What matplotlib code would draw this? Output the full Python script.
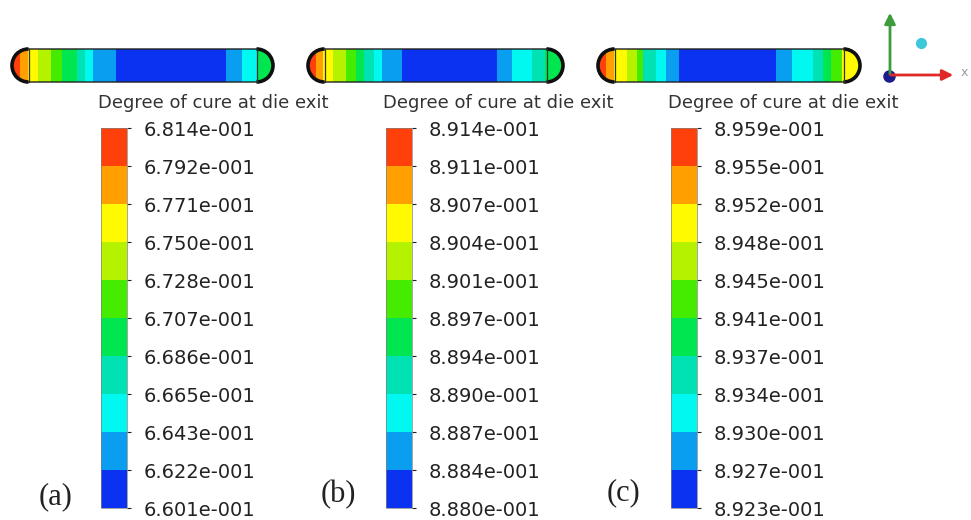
import numpy as np
import matplotlib
matplotlib.use("Agg")
import matplotlib.pyplot as plt
from matplotlib.colors import ListedColormap, BoundaryNorm
from matplotlib.cm import ScalarMappable
from matplotlib.patches import FancyBboxPatch, Arc

# contour band colours, lowest band first (CFX style rainbow)
band_colors = ['#0a32f0', '#0a9ef0', '#00f8f0', '#00e2b4', '#00e650',
               '#46ec00', '#b4f200', '#fffa00', '#ffa000', '#ff400a']

# legend levels
levels_a = [0.6601, 0.6622, 0.6643, 0.6665, 0.6686, 0.6707, 0.6728, 0.6750, 0.6771, 0.6792, 0.6814]
levels_b = [0.8880, 0.8884, 0.8887, 0.8890, 0.8894, 0.8897, 0.8901, 0.8904, 0.8907, 0.8911, 0.8914]
levels_c = [0.8923, 0.8927, 0.8930, 0.8934, 0.8937, 0.8941, 0.8945, 0.8948, 0.8952, 0.8955, 0.8959]

# band index along the die cross-section (left -> right) and the
# normalised positions where each band ends
profile_a_bands = [9, 8, 7, 6, 5, 4, 3, 2, 1, 0, 1, 2, 4]
profile_a_ends = [0.03, 0.06, 0.10, 0.15, 0.19, 0.25, 0.28, 0.31, 0.40, 0.82, 0.88, 0.94, 1.0]
profile_b_bands = [9, 8, 7, 6, 5, 4, 3, 2, 1, 0, 1, 2, 3, 4]
profile_b_ends = [0.03, 0.06, 0.10, 0.15, 0.19, 0.22, 0.26, 0.29, 0.37, 0.74, 0.80, 0.88, 0.93, 1.0]
profile_c_bands = [9, 8, 7, 6, 5, 3, 2, 1, 0, 1, 2, 3, 4, 5, 7]
profile_c_ends = [0.03, 0.06, 0.11, 0.15, 0.17, 0.22, 0.26, 0.31, 0.68, 0.74, 0.82, 0.86, 0.89, 0.93, 1.0]

panel_labels = ['(a)', '(b)', '(c)']
legend_title = 'Degree of cure at die exit'


def cfx_label(v):
    return '%.3fe-001' % (v * 10)


fig = plt.figure(figsize=(9.71, 5.2), dpi=100)
fig.patch.set_facecolor('white')
ov = fig.add_axes([0, 0, 1, 1])
ov.axis('off')

cmap = ListedColormap(band_colors)

# capsule placement in pixels: (left, right, top, bottom)
capsules = [(12, 273, 49, 82), (308, 563, 49, 82), (598, 860, 49, 82)]
profiles = [(profile_a_bands, profile_a_ends),
            (profile_b_bands, profile_b_ends),
            (profile_c_bands, profile_c_ends)]

for (x0, x1, y0, y1), (bands, ends) in zip(capsules, profiles):
    s = np.linspace(0, 1, 600, endpoint=False)
    idx = np.searchsorted(ends, s, side='right')
    row = np.array(bands)[np.clip(idx, 0, len(bands) - 1)]
    h = y1 - y0
    r = h / 2
    im = ov.imshow(row[np.newaxis, :], extent=(x0, x1, y1, y0), cmap=cmap,
                   vmin=-0.5, vmax=9.5, aspect='auto', interpolation='nearest')
    box = FancyBboxPatch((x0, y0), x1 - x0, h,
                         boxstyle='round,pad=0,rounding_size=%g' % r,
                         facecolor='none', edgecolor='#202020', lw=1.0)
    ov.add_patch(box)
    im.set_clip_path(box)
    ov.add_patch(Arc((x0 + r, (y0 + y1) / 2), 2 * r, h, theta1=90, theta2=270,
                     color='#101010', lw=2.6))
    ov.add_patch(Arc((x1 - r, (y0 + y1) / 2), 2 * r, h, theta1=-90, theta2=90,
                     color='#101010', lw=2.6))
    ov.plot([x0 + r, x0 + r], [y0, y1], color='#303030', lw=0.9)
    ov.plot([x1 - r, x1 - r], [y0, y1], color='#303030', lw=0.9)

# coordinate triad
ov.annotate('', xy=(890, 10), xytext=(890, 77),
            arrowprops=dict(arrowstyle='-|>', color='#3c9c3c', lw=2, mutation_scale=16))
ov.annotate('', xy=(956, 75), xytext=(888, 75),
            arrowprops=dict(arrowstyle='-|>', color='#e02828', lw=2, mutation_scale=16))
ov.plot(889, 76, 'o', color='#1c1c8c', ms=8)
ov.plot(921, 43, 'o', color='#3cc8d8', ms=7)
ov.text(961, 72, 'x', fontsize=9, color='#999999', va='center', ha='left')

ov.set_xlim(0, 971)
ov.set_ylim(520, 0)

# legends
cbar_left = [101, 386, 671]
label_pos = [(56, 497), (338, 495), (623, 493)]
for left, levels, lab, (lx, ly) in zip(cbar_left, [levels_a, levels_b, levels_c],
                                        panel_labels, label_pos):
    cax = fig.add_axes([left / 971, 12 / 520, 26 / 971, 380 / 520])
    norm = BoundaryNorm(levels, cmap.N)
    cb = fig.colorbar(ScalarMappable(norm=norm, cmap=cmap), cax=cax, ticks=levels)
    cb.ax.set_yticklabels([cfx_label(v) for v in levels])
    cb.ax.tick_params(length=3, width=0.8, pad=9, labelsize=14,
                      colors='#222222')
    cb.outline.set_linewidth(0.5)
    cb.outline.set_edgecolor('#808080')
    ov.text(left - 3, 103, legend_title, fontsize=13, color='#333333',
            va='center', ha='left')
    ov.text(lx, ly, lab, fontsize=22, family='Liberation Serif',
            color='#222222', ha='center', va='center')

fig.savefig('out.png', dpi=100, facecolor='white')
